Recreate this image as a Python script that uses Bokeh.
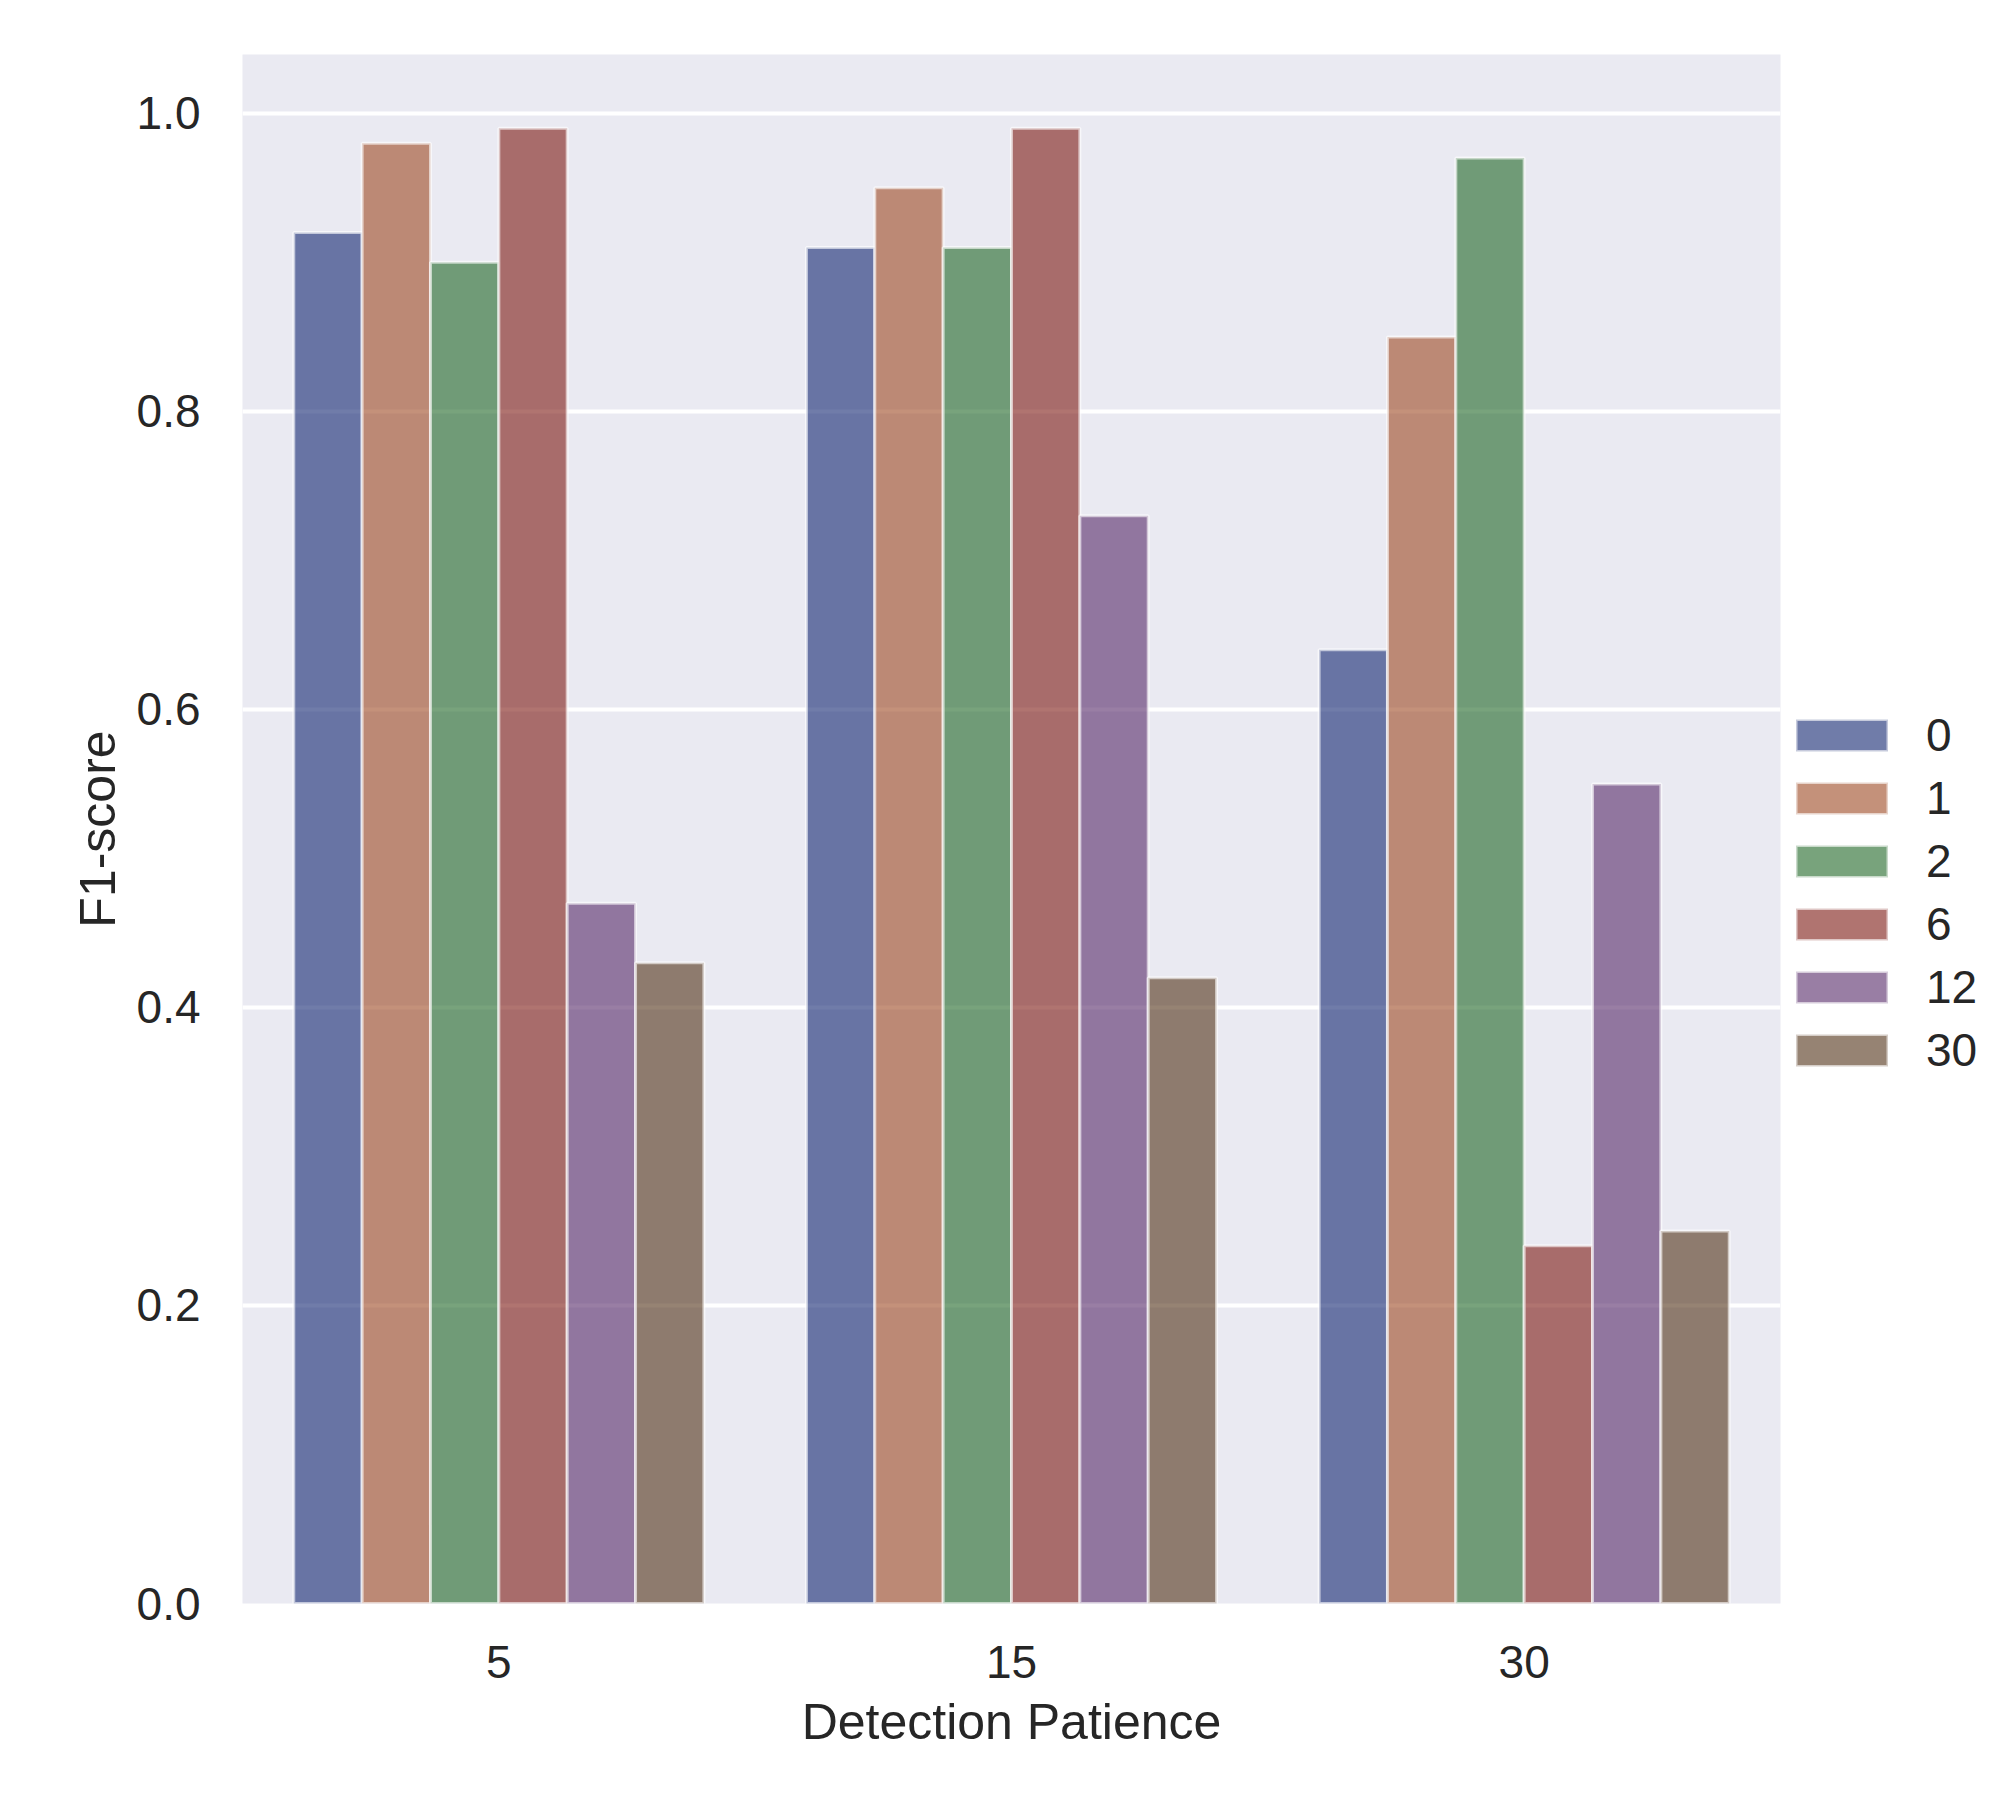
import colorsys
from bokeh.plotting import figure
from bokeh.models import (FactorRange, Range1d, FixedTicker, PrintfTickFormatter,
                          Legend, LegendItem, ColumnDataSource)
from bokeh.transform import dodge
from bokeh.embed import file_html
from bokeh.resources import INLINE

# ---- data ----
patience = ["5", "15", "30"]
hue_labels = ["0", "1", "2", "6", "12", "30"]
f1_h0 = [0.92, 0.91, 0.64]
f1_h1 = [0.98, 0.95, 0.85]
f1_h2 = [0.90, 0.91, 0.97]
f1_h6 = [0.99, 0.99, 0.24]
f1_h12 = [0.47, 0.73, 0.55]
f1_h30 = [0.43, 0.42, 0.25]
y_ticks = [0.0, 0.2, 0.4, 0.6, 0.8, 1.0]

series = [f1_h0, f1_h1, f1_h2, f1_h6, f1_h12, f1_h30]
base_colors = ["#001c7f", "#b1400d", "#12711c", "#8c0800", "#591e71", "#592f0d"]


def desaturate(hexcol, prop=0.75):
    r, g, b = (int(hexcol[i:i + 2], 16) / 255 for i in (1, 3, 5))
    h, l, s = colorsys.rgb_to_hls(r, g, b)
    r, g, b = colorsys.hls_to_rgb(h, l, s * prop)
    return "#%02x%02x%02x" % tuple(round(c * 255) for c in (r, g, b))


colors = [desaturate(c) for c in base_colors]

FONT = "Liberation Sans"
TXT = "#262626"

src = ColumnDataSource(dict(x=patience, **{f"h{i}": s for i, s in enumerate(series)}))

p = figure(x_range=FactorRange(*patience, range_padding=0),
           y_range=Range1d(0, 1.0395),
           frame_width=1538, frame_height=1549,
           min_border_left=242, min_border_right=228,
           min_border_top=54, min_border_bottom=189,
           output_backend="svg", toolbar_location=None,
           background_fill_color="#eaeaf2", border_fill_color="white")
p.outline_line_color = None

n = len(hue_labels)
bw = 0.8 / n
items = []
for i, (lab, col) in enumerate(zip(hue_labels, colors)):
    off = -0.4 + bw * (i + 0.5)
    r = p.vbar(x=dodge("x", off, range=p.x_range), top=f"h{i}", width=bw, source=src,
               fill_color=col, fill_alpha=0.6, line_color="white", line_alpha=0.6,
               line_width=3)
    items.append(LegendItem(label=lab, renderers=[r]))

# grid
p.xgrid.grid_line_color = None
p.ygrid.grid_line_color = "white"
p.ygrid.grid_line_width = 4
p.ygrid.ticker = FixedTicker(ticks=y_ticks)

# axes
p.yaxis.ticker = FixedTicker(ticks=y_ticks)
p.yaxis.formatter = PrintfTickFormatter(format="%.1f")
for ax in (p.xaxis[0], p.yaxis[0]):
    ax.axis_line_color = None
    ax.major_tick_line_color = None
    ax.minor_tick_line_color = None
    ax.major_tick_out = 0
    ax.major_tick_in = 0
    ax.major_label_text_font = FONT
    ax.major_label_text_font_size = "46px"
    ax.major_label_text_color = TXT
    ax.axis_label_text_font = FONT
    ax.axis_label_text_font_size = "50px"
    ax.axis_label_text_font_style = "normal"
    ax.axis_label_text_color = TXT
p.xaxis.axis_label = "Detection Patience"
p.yaxis.axis_label = "F1-score"
p.yaxis.major_label_standoff = 42
p.xaxis.major_label_standoff = 42
p.yaxis.axis_label_standoff = 8
p.xaxis.axis_label_standoff = 13

legend = Legend(items=items, location=(4, 526),
                glyph_width=115, glyph_height=40, label_height=32,
                spacing=9, padding=0, margin=0, label_standoff=27,
                label_text_font=FONT, label_text_font_size="46px",
                label_text_color=TXT, border_line_color=None,
                background_fill_alpha=0)
p.add_layout(legend, "right")

open("out.html", "w").write(file_html(p, INLINE))
